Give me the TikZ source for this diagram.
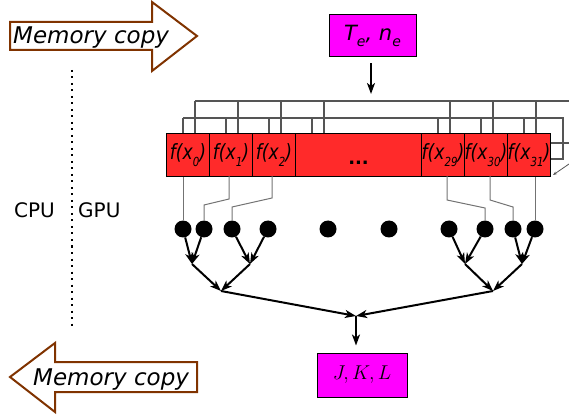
\RequirePackage{fix-cm}
\documentclass[tikz,border=0pt]{standalone}
\usepackage{fontspec}
\setmainfont{DejaVu Sans}
\usetikzlibrary{arrows.meta}

\definecolor{cellred}{RGB}{255,42,42}
\definecolor{boxmag}{RGB}{255,0,255}
\definecolor{copybrown}{RGB}{128,51,0}
\definecolor{wiregray}{RGB}{85,85,85}
\definecolor{feedgray}{RGB}{115,115,115}

\newcommand{\lowsub}[2][10.5]{\raisebox{-0.3em}{\fontsize{#1}{12}\selectfont #2}}
\newcommand{\fcell}[1]{\scalebox{0.82}[1]{f(x\lowsub[12.5]{#1})}}

\begin{document}
\begin{tikzpicture}[x=1pt, y=-1pt,
    cell/.style={draw, fill=cellred, line width=1pt, anchor=north west, minimum height=43pt, minimum width=43pt, inner sep=0pt, font=\fontsize{21}{24}\selectfont\itshape},
    magbox/.style={draw, fill=boxmag, line width=1pt, inner sep=0pt},
    copyarrow/.style={draw=copybrown, fill=white, line width=2pt},
    copytext/.style={anchor=base west, inner sep=0pt, font=\fontsize{23}{26}\selectfont\itshape},
    sidetext/.style={anchor=base west, inner sep=0pt, font=\fontsize{20}{22}\selectfont},
    wire/.style={draw=wiregray, line width=1.2pt},
    feed/.style={draw=feedgray, line width=1pt},
    thr/.style={circle, fill, minimum size=17pt, inner sep=0pt},
    tree/.style={line width=2pt, -{Stealth[length=11pt, width=8pt, inset=3pt]}}
  ]
    \useasboundingbox (0,0) rectangle (569,419);

    % memory copy arrows
    \path[copyarrow] (10,22) -- (152,22) -- (152,2) -- (197,36) -- (152,71) -- (152,50) -- (10,50) -- cycle;
    \path[copyarrow] (10,377) -- (55,343) -- (55,362) -- (197,362) -- (197,392) -- (55,392) -- (55,412) -- cycle;
    \node[copytext] (copyin) at (13,44) {Memory copy};
    \node[copytext] (copyout) at (33,385) {Memory copy};

    % host / device split
    \draw[line width=2pt, dash pattern=on 2pt off 4.5pt] (72,70) -- (72,330);
    \node[sidetext] (cpu) at (14,218) {CPU};
    \node[sidetext] (gpu) at (78,218) {GPU};

    % input
    \node[magbox, minimum width=87pt, minimum height=42pt, font=\fontsize{21}{24}\selectfont\itshape] (tene) at (372.5,36) {T\lowsub[14]{e}, n\lowsub[14]{e}};
    \coordinate (tin) at (371,94);
    \draw[tree, shorten <=6pt] (tene.south -| tin) -- (tin);

    % broadcast wires
    \draw[wire] (195,101) -- (569,101);
    \draw[wire] (183,118) -- (563,118) -- (563,159) -- (549,159);
    \draw[wire] (549,143) -- (569,143);
    \foreach \xl in {166,209,252,295,421,464,507} {
        \draw[wire] (\xl+17,118) -- (\xl+17,133);
        \draw[wire] (\xl+29,101) -- (\xl+29,133);
    }
    \draw[draw=wiregray, line width=0.8pt, -{Stealth[length=4pt, width=3pt]}] (569,164) -- (553,175);

    % evaluation cells
    \node[cell] (fx0) at (166,133) {\fcell{0}};
    \node[cell] (fx1) at (209,133) {\fcell{1}};
    \node[cell] (fx2) at (252,133) {\fcell{2}};
    \node[cell, minimum width=126pt, font=\fontsize{18}{20}\selectfont] (fmid) at (295,133) {\vphantom{(}\raisebox{-5pt}{\textbf{...}}};
    \node[cell] (fx29) at (421,133) {\fcell{29}};
    \node[cell] (fx30) at (464,133) {\fcell{30}};
    \node[cell] (fx31) at (507,133) {\fcell{31}};

    % threads
    \node[thr] (d0) at (183,229) {};
    \node[thr] (d1) at (204,229) {};
    \node[thr] (d2) at (232,229) {};
    \node[thr] (d3) at (268,229) {};
    \node[thr] (d4) at (328,229) {};
    \node[thr] (d5) at (389,229) {};
    \node[thr] (d6) at (449,229) {};
    \node[thr] (d7) at (485,229) {};
    \node[thr] (d8) at (513,229) {};
    \node[thr] (d9) at (535,229) {};

    \draw[feed] (d0 |- fx0.south) -- (d0);
    \draw[feed] (229,176) -- (229,199) -- (204,205) -- (d1);
    \draw[feed] (272,176) -- (272,198) -- (232,207) -- (d2);
    \draw[feed] (447,176) -- (447,200) -- (485,208) -- (d7);
    \draw[feed] (490,176) -- (490,200) -- (513,207) -- (d8);
    \draw[feed] (d9 |- fx31.south) -- (d9);

    % reduction tree
    \coordinate (m0) at (192,264);
    \coordinate (m1) at (250,264);
    \coordinate (m2) at (465,264);
    \coordinate (m3) at (522,264);
    \coordinate (n0) at (221,291);
    \coordinate (n1) at (493,291);
    \coordinate (r) at (356,316);

    \draw[tree] (d0) -- (m0);
    \draw[tree] (d1) -- (m0);
    \draw[tree] (d2) -- (m1);
    \draw[tree] (d3) -- (m1);
    \draw[tree] (d6) -- (m2);
    \draw[tree] (d7) -- (m2);
    \draw[tree] (d8) -- (m3);
    \draw[tree] (d9) -- (m3);
    \draw[tree] (m0) -- (n0);
    \draw[tree] (m1) -- (n0);
    \draw[tree] (m2) -- (n1);
    \draw[tree] (m3) -- (n1);
    \draw[tree] (n0) -- (r);
    \draw[tree] (n1) -- (r);

    % output
    \node[magbox, minimum width=90pt, minimum height=44pt, font=\fontsize{20}{24}\selectfont] (jkl) at (362,375) {$J,K,L$};
    \draw[tree, shorten >=7pt] (r) -- (r |- jkl.north);
\end{tikzpicture}
\end{document}
